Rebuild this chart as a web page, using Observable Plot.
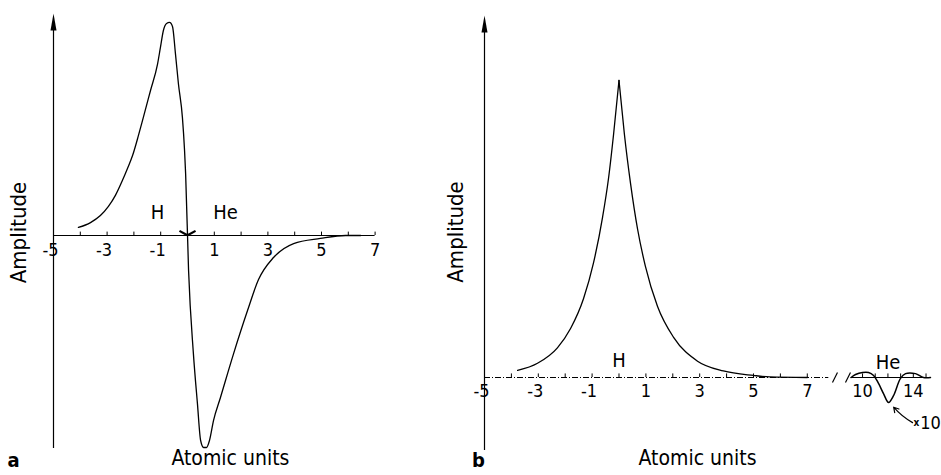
<!DOCTYPE html>
<html><head><meta charset="utf-8">
<script src="https://cdn.jsdelivr.net/npm/d3@7"></script>
<script src="https://cdn.jsdelivr.net/npm/@observablehq/plot@0.6"></script>
<style>
body{margin:0;background:#fff;}
#wrap{display:flex;width:941px;height:475px;overflow:hidden;}
</style></head><body><div id="wrap"></div>
<script>
// Panel a: antisymmetric H–He amplitude
const leftX = [-4.07,-3.62,-3.25,-2.95,-2.69,-2.43,-2.24,-2.05,-1.83,-1.64,-1.38,-1.12,-1.01,-0.90,-0.78,-0.67,-0.56,-0.45,-0.34,-0.19,-0.11,-0.07,0.04,0.22,0.37,0.49,0.60,0.71,0.82,0.97,1.23,1.72,2.24,2.65,3.21,3.96,4.96,5.9,6.46];
const leftY = [0.038,0.061,0.094,0.137,0.189,0.259,0.316,0.377,0.472,0.561,0.684,0.807,0.887,0.967,1.0,1.005,0.986,0.858,0.717,0.557,0.401,0.292,-0.165,-0.557,-0.792,-0.967,-1.0,-1.0,-0.967,-0.873,-0.764,-0.557,-0.354,-0.208,-0.104,-0.038,-0.014,0,0];
// Panel b: H amplitude
const hX = [-3.77,-3.03,-2.29,-1.80,-1.32,-0.95,-0.61,-0.39,-0.20,0,0.20,0.43,0.69,0.98,1.43,2.03,2.92,3.88,5.0,5.6,7.0];
const hY = [0.024,0.048,0.10,0.165,0.265,0.385,0.54,0.67,0.82,1.0,0.82,0.653,0.50,0.375,0.24,0.135,0.055,0.022,0.007,0.002,0];
// Panel b: He amplitude (drawn x10)
const heX = [9.1,9.45,10.0,10.47,10.87,11.26,11.65,12.05,12.44,12.99,13.39,14.17,14.8,15.35];
const heY = [0,0.01,0.017,0.017,0.007,-0.02,-0.054,-0.084,-0.061,-0.003,0.013,0.013,0,0];
// ticks
const leftTicks = [-5,-4,-3,-2,-1,0,1,2,3,4,5,6,7];
const leftTickLabels = [-5,-3,-1,1,3,5,7];
const rightTicks = [-5,-4,-3,-2,-1,0,1,2,3,4,5,6,7,10,11,12,13,14,15];
const rightTickLabels = [-5,-3,-1,1,3,5,7,10,14];

const FONT = '"DejaVu Sans Condensed","DejaVu Sans",sans-serif';
const arrowHead = {draw(ctx){ ctx.moveTo(0,0); ctx.lineTo(3,17); ctx.lineTo(-3,17); ctx.closePath(); }};
const fmt = d => d < 0 ? "-" + Math.abs(d) : String(d);
// broken axis of panel b: value -> position along the axis (in units of the first segment)
const brk = x => x <= 7.8 ? x : x <= 9.1 ? 7.8 + (x - 7.8) * 0.6377 : 8.629 + (x - 9.1) * 0.4721;

const left = Plot.plot({
  width: 440, height: 475, margin: 0,
  x: {domain: [-5, 7], range: [53, 374.6]},
  y: {domain: [-1, 1], range: [447, 23]},
  style: {fontFamily: FONT, background: "white", color: "black"},
  marks: [
    Plot.ruleY([0], {x1: -5, x2: 7, stroke: "black", strokeWidth: 1}),
    Plot.ruleX(leftTicks, {x: d => d, y1: 0, y2: 0.016, stroke: "black"}),
    Plot.ruleX([-5], {x: d => d, y1: -1.005, y2: 1.0, stroke: "black", strokeWidth: 1.2}),
    Plot.dot([-5], {x: d => d, y: 1.047, symbol: arrowHead, fill: "black", stroke: null}),
    Plot.line(leftX, {x: leftX, y: leftY, curve: "monotone-x", stroke: "black", strokeWidth: 1.3}),
    Plot.link([0, 1], {x1: [-0.3, 0.3], y1: [0.022, 0.022], x2: [-0.02, 0.02], y2: [0.002, 0.002], stroke: "black", strokeWidth: 2.2}),
    Plot.text(leftTickLabels.filter(d => d < 0), {x: d => d, y: 0, dy: 15, dx: -3, text: fmt, fontSize: 18}),
    Plot.text(leftTickLabels.filter(d => d > 0), {x: d => d, y: 0, dy: 15, text: fmt, fontSize: 18}),
    Plot.text(["H"], {x: [-1.12], y: [0], dy: -23, fontSize: 20}),
    Plot.text(["He"], {x: [1.42], y: [0], dy: -23, fontSize: 20}),
    Plot.text(["Amplitude"], {x: [-5], y: [0], dx: -35, dy: -3, rotate: -90, fontSize: 22}),
    Plot.text(["Atomic units"], {x: [1.6], frameAnchor: "bottom", dy: -11, fontSize: 21}),
    Plot.text(["a"], {frameAnchor: "bottom-left", dx: 13, dy: -9, textAnchor: "middle", fontSize: 20, fontWeight: "bold"})
  ]
});

const idx = d3.range(hX.length);
const right = Plot.plot({
  width: 501, height: 475, margin: 0,
  x: {domain: [-5, 11.603], range: [44, 490.6]},
  y: {domain: [0, 1], range: [377, 80]},
  style: {fontFamily: FONT, background: "white", color: "black"},
  marks: [
    Plot.ruleY([0], {x1: -5, x2: 7.8, stroke: "black", strokeWidth: 1, strokeDasharray: "6,2,1,2"}),
    Plot.ruleY([0], {x1: brk(9.1), x2: brk(15.35), stroke: "black", strokeWidth: 1}),
    Plot.ruleX(rightTicks, {x: brk, y1: 0, y2: 0.012, stroke: "black"}),
    Plot.link([0, 1], {x1: [7.937, 8.42], y1: [-0.017, -0.017], x2: [8.123, 8.606], y2: [0.017, 0.017], stroke: "black", strokeWidth: 1.2}),
    Plot.ruleX([-5], {x: d => d, y1: -0.246, y2: 1.19, stroke: "black", strokeWidth: 1.2}),
    Plot.dot([-5], {x: d => d, y: 1.219, symbol: arrowHead, fill: "black", stroke: null}),
    Plot.line(idx.filter(i => hX[i] <= 0), {x: i => hX[i], y: i => hY[i], curve: "monotone-x", stroke: "black", strokeWidth: 1.3}),
    Plot.line(idx.filter(i => hX[i] >= 0), {x: i => hX[i], y: i => hY[i], curve: "monotone-x", stroke: "black", strokeWidth: 1.3}),
    Plot.line(d3.range(heX.length), {x: i => brk(heX[i]), y: i => heY[i], curve: "catmull-rom", stroke: "black", strokeWidth: 1.5}),
    Plot.arrow([0], {x1: [brk(13.94)], y1: [-0.152], x2: [brk(12.45)], y2: [-0.1], bend: 10, headLength: 7, stroke: "black", strokeWidth: 1.2}),
    Plot.text(["x"], {x: [brk(14.25)], y: [-0.152], fontSize: 10, fontWeight: "bold"}),
    Plot.text(["10"], {x: [brk(14.55)], y: [-0.155], textAnchor: "start", fontSize: 18}),
    Plot.text(rightTickLabels.filter(d => d < 0), {x: brk, y: 0, dy: 14, dx: -3, text: fmt, fontSize: 18}),
    Plot.text(rightTickLabels.filter(d => d > 0), {x: brk, y: 0, dy: 14, text: fmt, fontSize: 18}),
    Plot.text(["H"], {x: [0], y: [0], dy: -17, fontSize: 20}),
    Plot.text(["He"], {x: [brk(12)], y: [0], dy: -15, fontSize: 20}),
    Plot.text(["Amplitude"], {x: [-5], y: [0.49], dx: -29, rotate: -90, fontSize: 22}),
    Plot.text(["Atomic units"], {x: [2.92], frameAnchor: "bottom", dy: -11, fontSize: 21}),
    Plot.text(["b"], {frameAnchor: "bottom-left", dx: 38, dy: -9, textAnchor: "middle", fontSize: 20, fontWeight: "bold"})
  ]
});

document.getElementById("wrap").append(left, right);
</script>
</body></html>
